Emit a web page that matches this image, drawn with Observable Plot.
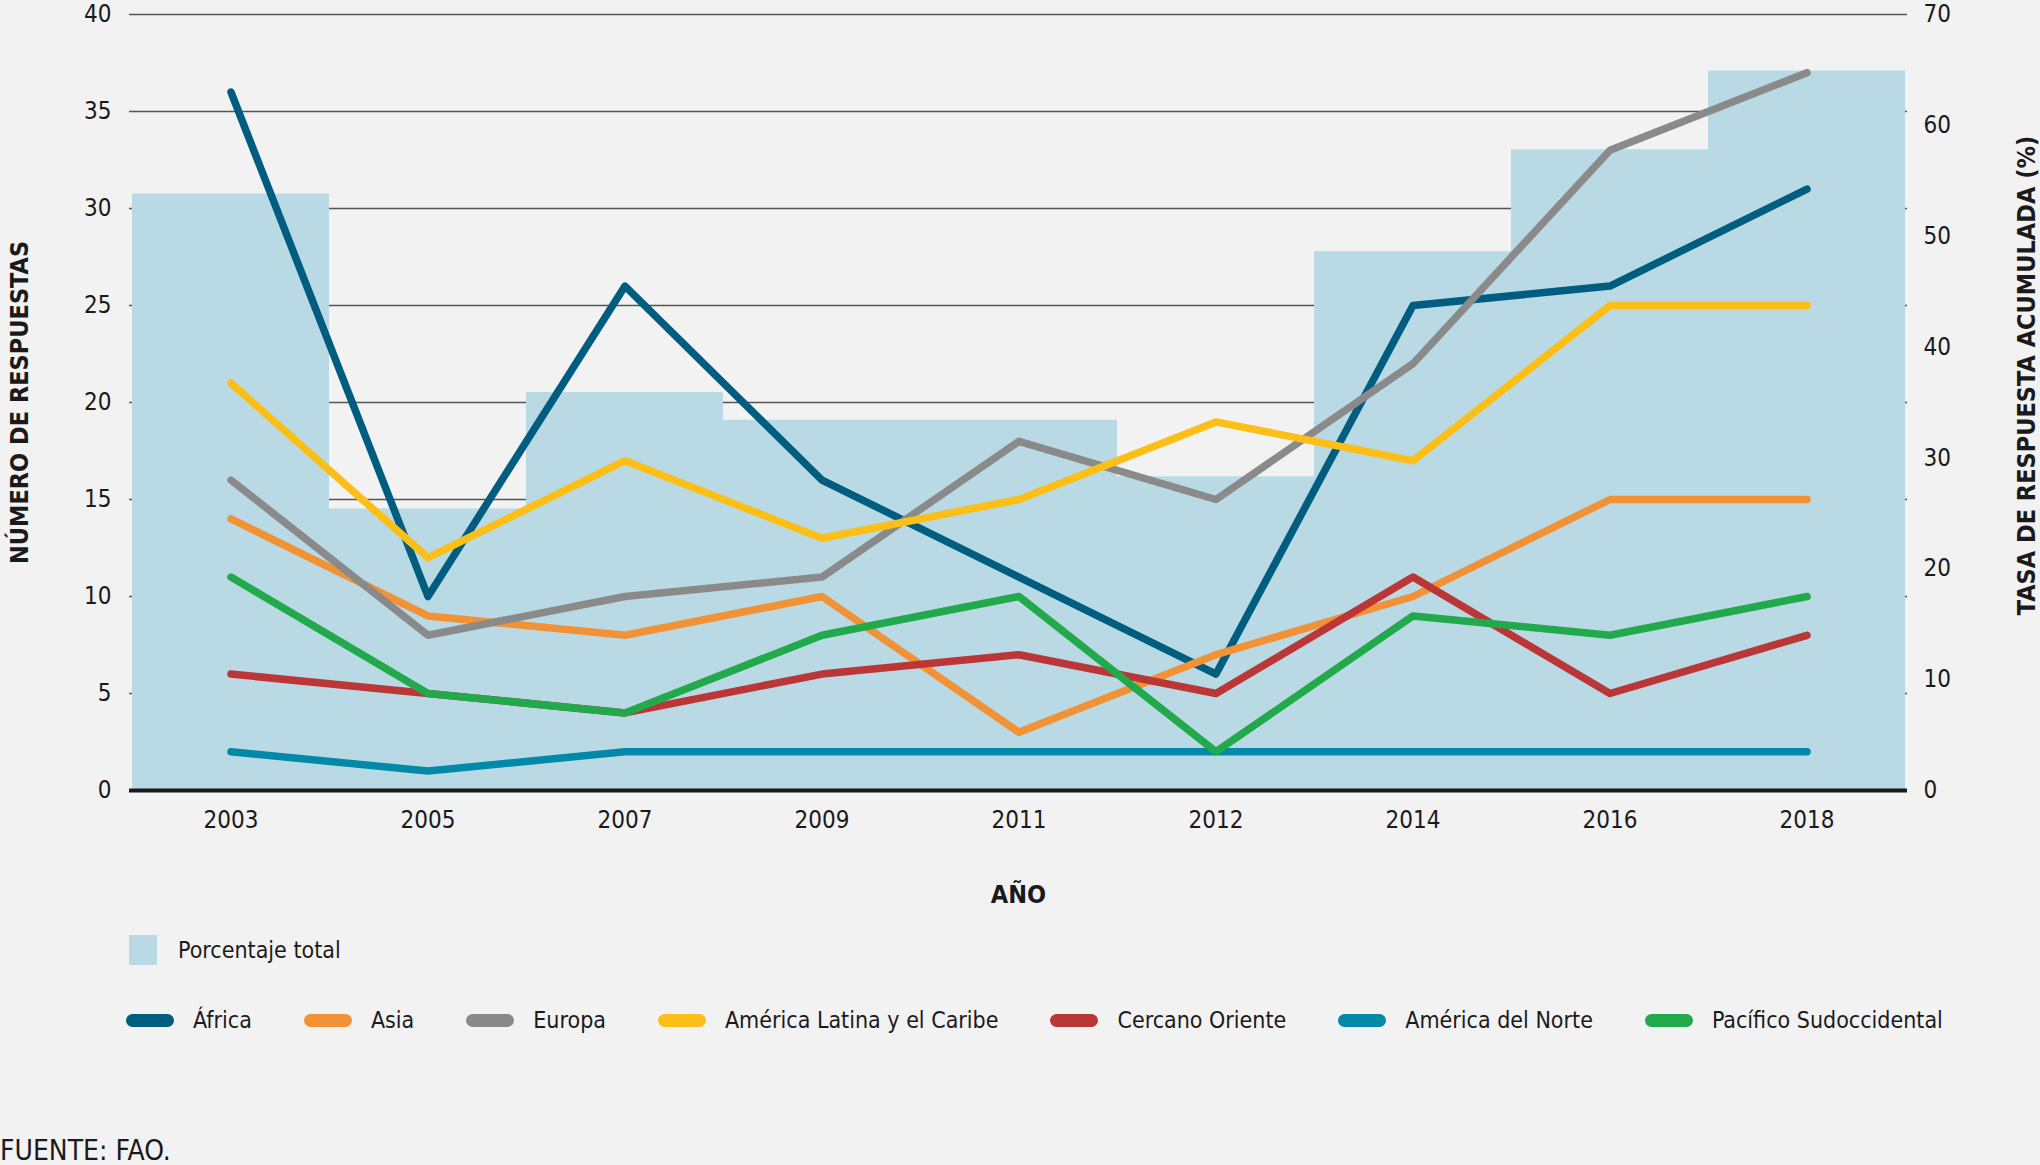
<!DOCTYPE html>
<html>
<head>
<meta charset="utf-8">
<script src="https://cdn.jsdelivr.net/npm/d3@7"></script>
<script src="https://cdn.jsdelivr.net/npm/@observablehq/plot@0.6"></script>
<style>
  html, body { margin: 0; padding: 0; background: #f2f2f2; }
  body { width: 2040px; height: 1165px; overflow: hidden; position: relative;
         font-family: "DejaVu Sans Condensed", "Liberation Sans Narrow", sans-serif; color: #1a1a1a; }
  #chart { position: absolute; left: 0; top: 0; }
  #chart svg g[aria-label$="axis label"] text { font-weight: bold; font-size: 25px; }
  .legend { position: absolute; display: flex; align-items: center; font-size: 23px; white-space: nowrap; }
  .sq { width: 28px; height: 30px; background: #b9dae4; margin-right: 21px; }
  .item { display: flex; align-items: center; margin-right: 52px; }
  .sw { width: 48px; height: 13px; border-radius: 7px; margin-right: 19px; }
  #caption { position: absolute; left: 0; top: 1134px; font-size: 28px; white-space: nowrap; }
</style>
</head>
<body>
<div id="chart"></div>
<div class="legend" id="leg1" style="left:129px; top:935px;"></div>
<div class="legend" id="leg2" style="left:126px; top:1007px;"></div>
<div id="caption">FUENTE: FAO.</div>
<script>
// ---- data ----
const years = ["2003", "2005", "2007", "2009", "2011", "2012", "2014", "2016", "2018"];
const totalPct = [53.8, 25.4, 35.9, 33.4, 33.4, 28.3, 48.6, 57.8, 64.9];
const regions = ["África", "Asia", "Europa", "América Latina y el Caribe", "Cercano Oriente", "América del Norte", "Pacífico Sudoccidental"];
const regionColors = ["#005d80", "#f29236", "#8a8a8a", "#fcbf17", "#bb3636", "#0289a7", "#22a94b"];
const africa   = [36, 10, 26, 16, 11, 6, 25, 26, 31];
const asia     = [14, 9, 8, 10, 3, 7, 10, 15, 15];
const europa   = [16, 8, 10, 11, 18, 15, 22, 33, 37];
const latam    = [21, 12, 17, 13, 15, 19, 17, 25, 25];
const cercano  = [6, 5, 4, 6, 7, 5, 11, 5, 8];
const norte    = [2, 1, 2, 2, 2, 2, 2, 2, 2];
const pacifico = [11, 5, 4, 8, 10, 2, 9, 8, 10];
const leftTicks = [0, 5, 10, 15, 20, 25, 30, 35, 40];
const rightTicks = [0, 10, 20, 30, 40, 50, 60, 70];
const barLabel = "Porcentaje total";

// ---- build tables ----
const series = [africa, asia, europa, latam, cercano, norte, pacifico];
const long = [];
series.forEach((vals, r) => vals.forEach((v, i) => long.push({region: regions[r], year: years[i], value: v})));
const bars = years.map((y, i) => ({year: y, pct: totalPct[i]}));
const leftMax = 40, rightMax = 70;
const toLeft = p => p * leftMax / rightMax;

const plot = Plot.plot({
  width: 2040,
  height: 920,
  marginLeft: 129,
  marginRight: 133,
  marginTop: 14,
  marginBottom: 130,
  style: {background: "transparent", fontSize: "24px", fontFamily: "'DejaVu Sans Condensed', 'Liberation Sans Narrow', sans-serif", color: "#1a1a1a", overflow: "visible"},
  x: {type: "band", domain: years, padding: 0},
  y: {domain: [0, leftMax]},
  color: {domain: regions, range: regionColors},
  marks: [
    Plot.gridY(leftTicks.filter(d => d > 0), {stroke: "#555", strokeOpacity: 1, strokeWidth: 1.6}),
    Plot.barY(bars, {x: "year", y: d => toLeft(d.pct), fill: "#b9dae4"}),
    Plot.ruleY([0], {stroke: "#1a1a1a", strokeWidth: 4}),
    Plot.line(long, {x: "year", y: "value", z: "region", stroke: "region", strokeWidth: 7.5, strokeLinecap: "round", strokeLinejoin: "round"}),
    Plot.axisX({tickSize: 0, tickPadding: 20, label: "AÑO", labelAnchor: "center", labelOffset: 112, labelArrow: "none"}),
    Plot.axisY(leftTicks, {anchor: "left", tickSize: 0, tickPadding: 18, label: "NÚMERO DE RESPUESTAS", labelAnchor: "center", labelOffset: 119, labelArrow: "none"}),
    Plot.axisY(rightTicks.map(toLeft), {anchor: "right", tickSize: 0, tickPadding: 16, tickFormat: d => Math.round(d * rightMax / leftMax), label: "TASA DE RESPUESTA ACUMULADA (%)", labelAnchor: "center", labelOffset: 127, labelArrow: "none"})
  ]
});
document.getElementById("chart").appendChild(plot);
// the right-hand axis title sits slightly above the frame centre in the reference
const yLabels = plot.querySelectorAll('g[aria-label="y-axis label"] text');
if (yLabels.length > 1) yLabels[yLabels.length - 1].setAttribute("dx", "27");

// ---- legends ----
const leg1 = document.getElementById("leg1");
leg1.innerHTML = `<div class="sq"></div><span>${barLabel}</span>`;
const leg2 = document.getElementById("leg2");
regions.forEach((r, i) => {
  const item = document.createElement("div");
  item.className = "item";
  item.innerHTML = `<div class="sw" style="background:${regionColors[i]}"></div><span>${r}</span>`;
  leg2.appendChild(item);
});
</script>
</body>
</html>
